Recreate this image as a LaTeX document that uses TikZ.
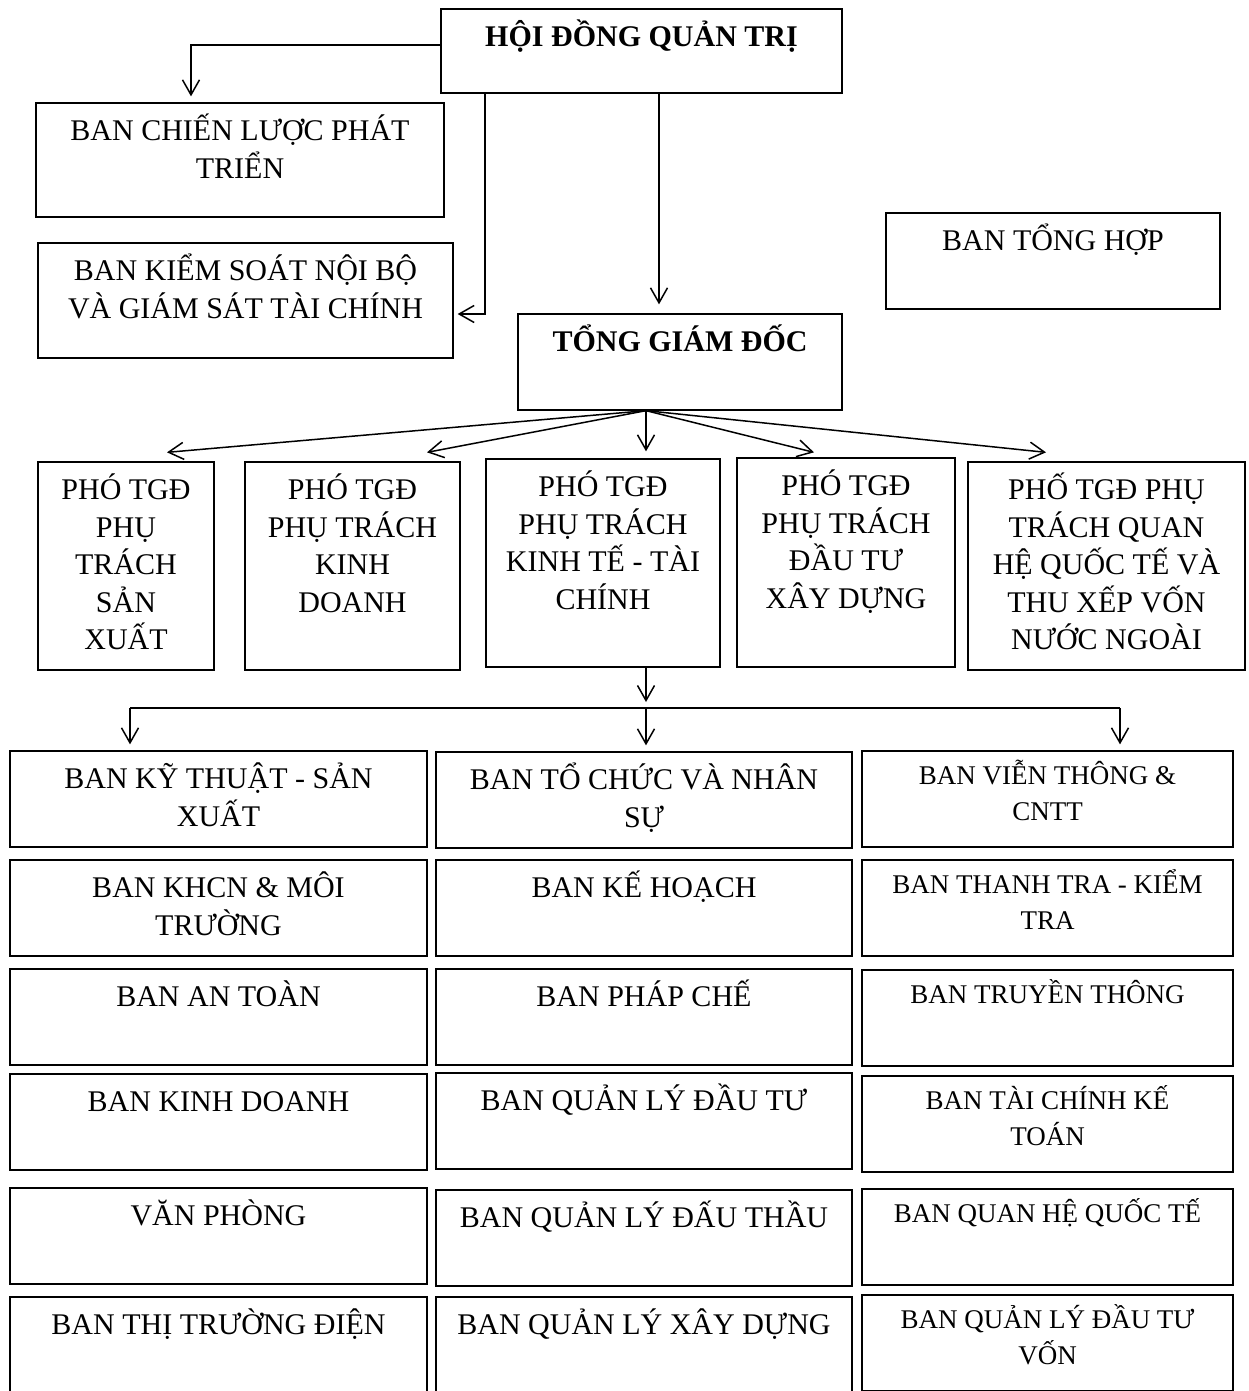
\documentclass[tikz,border=0pt]{standalone}
\usepackage{fontspec}
\setmainfont{Liberation Serif}
\usetikzlibrary{arrows.meta}

\tikzset{
  unit/.style={draw, line width=1.3pt, inner sep=0pt},
  lbl/.style={anchor=north, yshift=-6pt, align=center, inner sep=0pt,
    font=\fontsize{30}{37.5}\selectfont},
  lblb/.style={lbl, font=\fontsize{30}{37.5}\selectfont\bfseries},
  lbls/.style={anchor=north, yshift=-2pt, align=center, inner sep=0pt,
    font=\fontsize{27}{35.5}\selectfont},
  arr/.style={line width=1.5pt, -{Straight Barb[length=15pt,width=17pt]}}
}

% box with its text set at the top
\newcommand{\banbox}[6][lbl]{%
  \node[unit, minimum width=#4pt, minimum height=#5pt] (#2) at (#3) {};
  \node[#1] at (#2.north) {\rule{0pt}{32pt}#6};}

\begin{document}
\begin{tikzpicture}[x=1pt, y=-1pt]
\useasboundingbox (0,0) rectangle (1248,1391);

% top level
\banbox[lblb]{hdqt}{641.5,51}{401}{84}{HỘI ĐỒNG QUẢN TRỊ}
\banbox{clpt}{240,160}{408}{114}{BAN CHIẾN LƯỢC PHÁT\\TRIỂN}
\banbox{ks}{245.5,300.5}{415}{115}{BAN KIỂM SOÁT NỘI BỘ\\VÀ GIÁM SÁT TÀI CHÍNH}
\banbox{th}{1053,261}{334}{96}{BAN TỔNG HỢP}
\banbox[lblb]{tgd}{680,362}{324}{96}{TỔNG GIÁM ĐỐC}

% deputies
\banbox{p1}{126,566}{176}{208}{PHÓ TGĐ\\PHỤ\\TRÁCH\\SẢN\\XUẤT}
\banbox{p2}{352.5,566}{215}{208}{PHÓ TGĐ\\PHỤ TRÁCH\\KINH\\DOANH}
\banbox{p3}{603,563}{234}{208}{PHÓ TGĐ\\PHỤ TRÁCH\\KINH TẾ - TÀI\\CHÍNH}
\banbox{p4}{846,562.5}{218}{209}{PHÓ TGĐ\\PHỤ TRÁCH\\ĐẦU TƯ\\XÂY DỰNG}
\banbox{p5}{1106.5,566}{277}{208}{PHỐ TGĐ PHỤ\\TRÁCH QUAN\\HỆ QUỐC TẾ VÀ\\THU XẾP VỐN\\NƯỚC NGOÀI}

% departments
\banbox{b11}{218.5,799}{417}{96}{BAN KỸ THUẬT - SẢN\\XUẤT}
\banbox{b21}{218.5,908}{417}{96}{BAN KHCN \& MÔI\\TRƯỜNG}
\banbox{b31}{218.5,1017}{417}{96}{BAN AN TOÀN}
\banbox{b41}{218.5,1122}{417}{96}{BAN KINH DOANH}
\banbox{b51}{218.5,1236}{417}{96}{VĂN PHÒNG}
\banbox{b61}{218.5,1345}{417}{96}{BAN THỊ TRƯỜNG ĐIỆN}

\banbox{b12}{644,800}{416}{96}{BAN TỔ CHỨC VÀ NHÂN\\SỰ}
\banbox{b22}{644,908}{416}{96}{BAN KẾ HOẠCH}
\banbox{b32}{644,1017}{416}{96}{BAN PHÁP CHẾ}
\banbox{b42}{644,1121}{416}{96}{BAN QUẢN LÝ ĐẦU TƯ}
\banbox{b52}{644,1238}{416}{96}{BAN QUẢN LÝ ĐẤU THẦU}
\banbox{b62}{644,1345}{416}{96}{BAN QUẢN LÝ XÂY DỰNG}

\banbox[lbls]{b13}{1047.5,799}{371}{96}{BAN VIỄN THÔNG \&\\CNTT}
\banbox[lbls]{b23}{1047.5,908}{371}{96}{BAN THANH TRA - KIỂM\\TRA}
\banbox[lbls]{b33}{1047.5,1018}{371}{96}{BAN TRUYỀN THÔNG}
\banbox[lbls]{b43}{1047.5,1124}{371}{96}{BAN TÀI CHÍNH KẾ\\TOÁN}
\banbox[lbls]{b53}{1047.5,1237}{371}{96}{BAN QUAN HỆ QUỐC TẾ}
\banbox[lbls]{b63}{1047.5,1343}{371}{96}{BAN QUẢN LÝ ĐẦU TƯ\\VỐN}

% board connectors
\draw[arr] ([yshift=6pt]hdqt.west) -| ([xshift=-49pt,yshift=6pt]clpt.north);
\draw[arr] ([xshift=-156.5pt]hdqt.south) |- ([xshift=4pt,yshift=-13.5pt]ks.east);
\draw[arr] ([xshift=17.5pt]hdqt.south) -- ([xshift=-21pt,yshift=9pt]tgd.north);

% fan to deputies
\coordinate (fan) at ([xshift=-34pt]tgd.south);
\draw[arr] (fan) -- ([xshift=41pt,yshift=9pt]p1.north);
\draw[arr] (fan) -- ([xshift=74.5pt,yshift=9pt]p2.north);
\draw[arr] (fan) -- ([xshift=43pt,yshift=7pt]p3.north);
\draw[arr] (fan) -- ([xshift=-32pt,yshift=5pt]p4.north);
\draw[arr] (fan) -- ([xshift=-60.5pt,yshift=9pt]p5.north);

% bus to departments
\coordinate (busl) at (130,708);
\coordinate (busm) at (646,708);
\coordinate (busr) at (1120,708);
\draw[line width=1.5pt] (busl) -- (busr);
\draw[arr] ([xshift=43pt]p3.south) -- ([yshift=6pt]busm);
\draw[arr] (busl) -- ([yshift=6pt]b11.north -| busl);
\draw[arr] (busm) -- ([yshift=6pt]b12.north -| busm);
\draw[arr] (busr) -- ([yshift=6pt]b13.north -| busr);
\end{tikzpicture}
\end{document}
